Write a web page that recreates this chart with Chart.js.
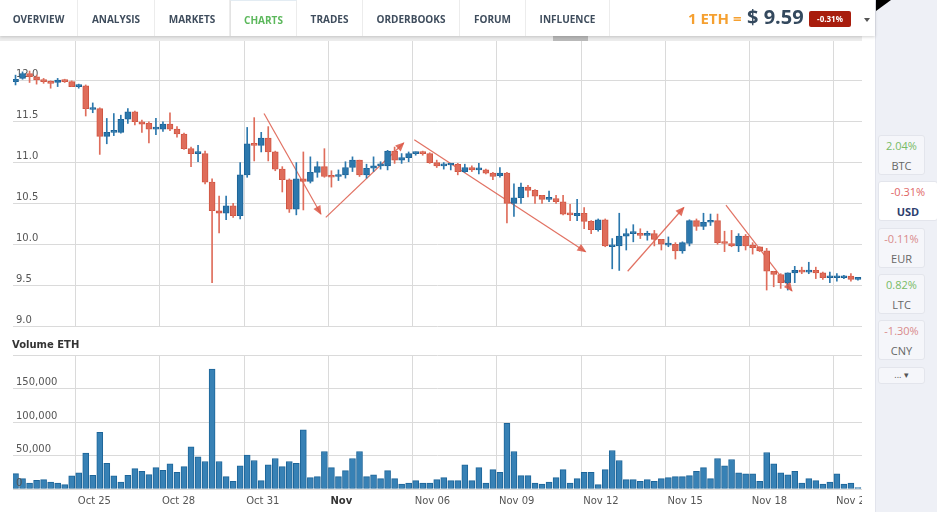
<!DOCTYPE html>
<html>
<head>
<meta charset="utf-8">
<title>ETH / USD</title>
<script src="https://cdn.jsdelivr.net/npm/chart.js@4.4.1/dist/chart.umd.min.js"></script>
<style>
  html, body { margin: 0; padding: 0; }
  body { width: 937px; height: 512px; overflow: hidden; position: relative; background: #fff; font-family: 'Open Sans', sans-serif; }
  #nav { position: absolute; left: 0; top: 0; width: 875px; height: 36px; background: #fff; box-shadow: 0 1px 3px rgba(0,0,0,.18); z-index: 4; }
  .tab { position: absolute; top: 0; height: 36px; line-height: 38px; text-align: center; font-size: 10px; font-weight: 700; color: #3f4d5d; border-right: 1px solid #ececec; box-sizing: border-box; }
  .tab.on { color: #5cb85c; border-left: 1px solid #e3e3e3; border-top: 1px solid #e3ecf3; }
  #band { position: absolute; left: 0; top: 36px; width: 862px; height: 5px; background: #ececec; z-index: 3; }
  #thumb { position: absolute; left: 553px; top: 36px; width: 35px; height: 5px; background: #b9b9b9; z-index: 3; }
  #rate1 { position: absolute; left: 688px; top: 8px; font-size: 15px; font-weight: 700; color: #f5a030; }
  #rate2 { position: absolute; left: 747px; top: 3px; font-size: 20px; font-weight: 700; color: #34495e; }
  #badge { position: absolute; left: 809px; top: 11px; width: 42px; height: 16px; background: #a81d0d; color: #fff; font-size: 8px; font-weight: 700; text-align: center; line-height: 16px; border-radius: 2px; }
  #caret { position: absolute; left: 864px; top: 18px; width: 0; height: 0; border-left: 3px solid transparent; border-right: 3px solid transparent; border-top: 4px solid #555; }
  #side { position: absolute; left: 875px; top: 0; width: 62px; height: 512px; background: #eef0f6; border-left: 1px solid #e2e4ec; box-sizing: border-box; z-index: 2; }
  #corner { position: absolute; left: 876px; top: 0; width: 0; height: 0; border-top: 11px solid #000; border-right: 15px solid transparent; z-index: 5; }
  .card { position: absolute; left: 2px; width: 47px; height: 40px; background: #f5f6fa; border: 1px solid #e3e5ec; border-radius: 3px; box-sizing: border-box; text-align: center; font-size: 11px; color: #666; }
  .card .p { display: block; margin-top: 3px; line-height: 14px; }
  .card .s { display: block; margin-top: 6px; line-height: 14px; }
  .card.on { background: #fff; width: 60px; }
  .card.on .s { font-weight: 700; color: #2e3f6e; }
  .g { color: #77bb66; }
  .r { color: #e06666; }
  .rl { color: #d98a8a; }
  #more { position: absolute; left: 2px; top: 367px; width: 47px; height: 17px; background: #f5f6fa; border: 1px solid #e3e5ec; border-radius: 3px; box-sizing: border-box; font-size: 9px; color: #555; text-align: center; line-height: 14px; }
  #pwrap { position: absolute; left: 0; top: 28px; width: 880px; height: 310px; }
  #vwrap { position: absolute; left: 0; top: 340px; width: 862px; height: 176px; overflow: hidden; }
  #vtitle { position: absolute; left: 12px; top: 339px; font-family: 'DejaVu Sans', sans-serif; font-size: 10px; font-weight: 700; color: #333; z-index: 1; }
</style>
</head>
<body>
<div id="nav">
  <div class="tab" style="left:0;width:78px">OVERVIEW</div>
  <div class="tab" style="left:78px;width:77px">ANALYSIS</div>
  <div class="tab" style="left:155px;width:75px">MARKETS</div>
  <div class="tab on" style="left:230px;width:67px">CHARTS</div>
  <div class="tab" style="left:297px;width:66px">TRADES</div>
  <div class="tab" style="left:363px;width:97px">ORDERBOOKS</div>
  <div class="tab" style="left:460px;width:66px">FORUM</div>
  <div class="tab" style="left:526px;width:84px">INFLUENCE</div>
  <div id="rate1">1 ETH =</div>
  <div id="rate2">$ 9.59</div>
  <div id="badge">-0.31%</div>
  <div id="caret"></div>
</div>
<div id="band"></div>
<div id="thumb"></div>
<div id="corner"></div>
<div id="side">
  <div class="card" style="top:135px"><span class="p g">2.04%</span><span class="s">BTC</span></div>
  <div class="card on" style="top:181px"><span class="p r">-0.31%</span><span class="s">USD</span></div>
  <div class="card" style="top:228px"><span class="p rl">-0.11%</span><span class="s">EUR</span></div>
  <div class="card" style="top:274px"><span class="p g">0.82%</span><span class="s">LTC</span></div>
  <div class="card" style="top:320px"><span class="p rl">-1.30%</span><span class="s">CNY</span></div>
  <div id="more">... &#9662;</div>
</div>

<div id="pwrap"><canvas id="price" width="880" height="310"></canvas></div>
<div id="vtitle">Volume ETH</div>
<div id="vwrap"><canvas id="volume" width="880" height="176"></canvas></div>

<script>
// 6h candles, Oct 22 evening .. Nov 20
const open  = [11.99,12.03,12.09,12.05,12.01,11.99,11.98,12.01,11.99,11.93,
               11.94,11.65,11.66,11.32,11.37,11.37,11.53,11.62,11.50,11.48,
               11.41,11.41,11.47,11.41,11.35,11.17,11.11,11.11,10.76,10.41,
               10.38,10.47,10.35,10.85,11.23,11.21,11.30,11.13,10.92,10.79,
               10.43,10.80,10.77,10.88,10.95,10.83,10.83,10.85,10.94,11.03,
               10.85,10.93,10.96,10.96,11.14,11.03,11.06,11.11,11.12,11.11,
               11.00,10.96,10.97,10.98,10.89,10.94,10.91,10.91,10.87,10.84,
               10.87,10.50,10.57,10.70,10.66,10.60,10.55,10.56,10.52,10.37,
               10.35,10.38,10.28,10.18,10.30,9.97,9.98,10.10,10.13,10.13,
               10.11,10.13,10.06,9.99,10.00,9.92,10.01,10.29,10.22,10.27,
               10.29,10.02,10.01,9.98,10.10,9.99,9.97,9.92,9.67,9.63,
               9.53,9.65,9.68,9.66,9.68,9.65,9.59,9.59,9.59,9.61,
               9.57];
const high  = [12.07,12.11,12.12,12.07,12.03,12.00,12.03,12.02,12.00,11.96,
               11.95,11.73,11.67,11.54,11.60,11.58,11.66,11.63,11.52,11.50,
               11.54,11.50,11.61,11.44,11.36,11.19,11.21,11.14,10.80,10.59,
               10.59,10.50,11.00,11.43,11.55,11.37,11.44,11.14,10.95,10.80,
               11.00,11.13,11.07,11.01,11.17,10.90,10.91,11.01,11.07,11.03,
               10.98,11.07,11.01,11.15,11.19,11.11,11.13,11.13,11.14,11.12,
               11.03,11.00,10.99,10.99,10.98,10.96,10.99,10.92,10.88,10.94,
               10.88,10.74,10.75,10.72,10.67,10.60,10.65,10.60,10.60,10.49,
               10.55,10.45,10.29,10.31,10.31,10.07,10.38,10.19,10.24,10.19,
               10.16,10.17,10.06,10.09,10.02,10.03,10.30,10.31,10.38,10.37,
               10.37,10.16,10.17,10.13,10.12,10.02,9.97,9.95,9.67,9.64,
               9.65,9.73,9.72,9.78,9.72,9.66,9.66,9.64,9.62,9.64,
               9.59];
const low   = [11.95,12.02,11.98,11.96,11.97,11.91,11.93,11.98,11.93,11.91,
               11.57,11.61,11.10,11.23,11.33,11.36,11.48,11.46,11.37,11.24,
               11.34,11.38,11.39,11.31,11.16,10.95,11.01,10.74,9.53,10.14,
               10.30,10.33,10.31,10.82,11.02,11.13,11.02,10.90,10.64,10.39,
               10.36,10.42,10.75,10.82,10.82,10.70,10.78,10.81,10.89,10.83,
               10.81,10.89,10.92,10.91,10.99,10.99,11.01,11.09,11.09,10.99,
               10.94,10.92,10.91,10.85,10.88,10.89,10.86,10.86,10.79,10.82,
               10.26,10.34,10.50,10.58,10.50,10.50,10.52,10.50,10.36,10.29,
               10.29,10.19,10.13,10.16,9.97,9.70,9.68,9.93,10.03,10.07,
               10.05,9.98,9.93,9.97,9.82,9.89,9.98,10.17,10.18,10.23,
               10.00,9.91,9.97,9.91,9.93,9.88,9.91,9.44,9.48,9.46,
               9.44,9.53,9.64,9.64,9.58,9.57,9.53,9.55,9.58,9.55,
               9.56];
const close = [12.02,12.09,12.05,12.01,11.99,11.97,12.01,11.99,11.93,11.94,
               11.66,11.66,11.32,11.37,11.38,11.53,11.62,11.50,11.47,11.41,
               11.42,11.47,11.41,11.35,11.17,11.11,11.12,10.76,10.41,10.38,
               10.47,10.35,10.85,11.23,11.21,11.30,11.13,10.92,10.79,10.43,
               10.80,10.77,10.88,10.95,10.83,10.82,10.85,10.94,11.03,10.85,
               10.93,10.96,10.97,11.14,11.03,11.06,11.11,11.12,11.11,11.00,
               10.96,10.97,10.98,10.89,10.94,10.91,10.92,10.87,10.83,10.87,
               10.50,10.57,10.70,10.66,10.59,10.55,10.56,10.52,10.37,10.36,
               10.38,10.28,10.18,10.30,9.98,9.98,10.10,10.13,10.14,10.11,
               10.13,10.06,10.00,10.00,9.92,10.02,10.29,10.22,10.27,10.28,
               10.02,10.01,9.98,10.10,9.98,9.96,9.92,9.67,9.63,9.53,
               9.65,9.68,9.66,9.68,9.65,9.59,9.60,9.60,9.61,9.57,
               9.58];
// volume in ETH
const volume = [23000,15500,9000,13000,14000,10500,9000,6500,19500,24000,
                53500,20500,84500,38500,19500,10500,20500,30500,26500,21500,
                32000,28000,37500,25000,33500,63000,48000,41000,179000,41000,
                18500,11500,34500,50500,42500,12500,36000,45500,33500,41000,
                38500,88500,17000,18500,56000,32000,18500,27500,45500,56000,
                18500,21000,15500,27500,15500,7500,9000,12500,9000,9000,
                14000,17000,12500,12500,36000,12500,32000,9000,29000,25000,
                98000,56000,20000,20000,9000,7500,10500,17000,29000,9000,
                15500,25000,25000,6500,29000,57500,42500,14000,14000,11500,
                14000,11500,15500,17000,18500,18500,20000,26500,32000,15500,
                45500,34500,44000,24000,22500,22500,11500,54500,37500,24000,
                21000,26500,9000,15500,12500,7500,10500,22500,7500,9000,
                2000];

// trend arrows drawn on the chart: [fromIndex, fromPrice, toIndex, toPrice]
const trendLines = [
  [35.4, 11.60, 43.5, 10.37],
  [44.2, 10.33, 55.3, 11.24],
  [56.8, 11.28, 81.2, 9.91],
  [87.2, 9.67, 95.2, 10.45],
  [101.2, 10.48, 110.6, 9.43]
];

const xTickPos = [8.58, 20.58, 32.58, 44.58, 56.58, 68.58, 80.58, 92.58, 104.58, 116.58];
const xTickLabels = ['Oct 25', 'Oct 28', 'Oct 31', 'Nov', 'Nov 06', 'Nov 09', 'Nov 12', 'Nov 15', 'Nov 18', 'Nov 21'];
const priceTicks = [9.0, 9.5, 10.0, 10.5, 11.0, 11.5, 12.0];
const volumeTicks = [0, 50000, 100000, 150000, 200000];

const UP = '#2c78ad', UP_EDGE = '#1c6194';
const DOWN = '#df6d5b', DOWN_EDGE = '#cf5542';
const GRID = '#dadada';
const FONT = 'DejaVu Sans';

Chart.defaults.font.family = FONT;
Chart.defaults.font.size = 10;
Chart.defaults.color = '#555';

const isUp = i => close[i] >= open[i];
const xScale = (showLabels) => ({
  type: 'linear',
  offset: false,
  min: -0.36,
  max: 120.58,
  afterBuildTicks: s => { s.ticks = xTickPos.map(v => ({ value: v })); },
  grid: { color: GRID, drawTicks: false, offset: false },
  border: { display: false },
  ticks: {
    display: showLabels,
    align: 'start',
    labelOffset: 2,
    padding: 6,
    callback: (v, i) => xTickLabels[i],
    color: c => (c.tick && c.tick.label === 'Nov') ? '#333' : '#555',
    font: c => ({ family: FONT, size: 10, weight: (c.tick && c.tick.label === 'Nov') ? 'bold' : 'normal' })
  }
});

// arrow heads at the end of each trend line
const arrowHeads = {
  id: 'arrowHeads',
  afterDatasetsDraw(chart) {
    const ctx = chart.ctx;
    chart.data.datasets.forEach((ds, k) => {
      if (!ds.isArrow) return;
      const pts = chart.getDatasetMeta(k).data;
      const a = pts[0], b = pts[1];
      const ang = Math.atan2(b.y - a.y, b.x - a.x);
      ctx.save();
      ctx.fillStyle = ds.borderColor;
      ctx.translate(b.x, b.y);
      ctx.rotate(ang);
      ctx.beginPath();
      ctx.moveTo(1, 0);
      ctx.lineTo(-8, -4);
      ctx.lineTo(-8, 4);
      ctx.closePath();
      ctx.fill();
      ctx.restore();
    });
  }
};

const arrowSets = trendLines.map(t => ({
  type: 'line',
  isArrow: true,
  data: [{ x: t[0], y: t[1] }, { x: t[2], y: t[3] }],
  borderColor: 'rgba(220, 88, 70, 0.85)',
  borderWidth: 1.2,
  pointRadius: 0,
  fill: false
}));

new Chart(document.getElementById('price'), {
  type: 'bar',
  data: {
    datasets: [
      {
        data: open.map((o, i) => ({ x: i, y: [low[i], high[i]] })),
        backgroundColor: c => isUp(c.dataIndex) ? UP : DOWN,
        barThickness: 1,
        grouped: false,
        borderSkipped: false
      },
      {
        data: open.map((o, i) => ({ x: i, y: [o, close[i]] })),
        backgroundColor: c => isUp(c.dataIndex) ? UP : DOWN,
        borderColor: c => isUp(c.dataIndex) ? UP_EDGE : DOWN_EDGE,
        borderWidth: 1,
        barThickness: 6,
        minBarLength: 2,
        grouped: false,
        borderSkipped: false
      },
      ...arrowSets
    ]
  },
  options: {
    responsive: false,
    animation: false,
    layout: { padding: { left: 7, right: 18, top: 12, bottom: 12 } },
    plugins: { legend: { display: false }, tooltip: { enabled: false } },
    scales: {
      x: xScale(false),
      y: {
        min: 9.0,
        max: 12.5,
        afterBuildTicks: s => { s.ticks = priceTicks.map(v => ({ value: v })); },
        grid: { color: GRID, drawTicks: false },
        border: { display: false },
        ticks: { mirror: true, padding: 3, labelOffset: -6, callback: v => v.toFixed(1) }
      }
    }
  },
  plugins: [arrowHeads]
});

new Chart(document.getElementById('volume'), {
  type: 'bar',
  data: {
    datasets: [{
      data: volume.map((v, i) => ({ x: i, y: v })),
      backgroundColor: '#3781b5',
      borderColor: '#1d6599',
      borderWidth: 1,
      barThickness: 6,
      borderSkipped: false
    }]
  },
  options: {
    responsive: false,
    animation: false,
    layout: { padding: { left: 7, right: 18, top: 15, bottom: 3 } },
    plugins: { legend: { display: false }, tooltip: { enabled: false } },
    scales: {
      x: xScale(true),
      y: {
        min: 0,
        max: 200000,
        afterBuildTicks: s => { s.ticks = volumeTicks.map(v => ({ value: v })); },
        grid: { color: GRID, drawTicks: false },
        border: { display: false },
        ticks: {
          mirror: true, padding: 3, labelOffset: -6, z: 1,
          callback: v => v === 200000 ? '' : v.toLocaleString('en-US')
        }
      }
    }
  }
});
</script>
</body>
</html>
